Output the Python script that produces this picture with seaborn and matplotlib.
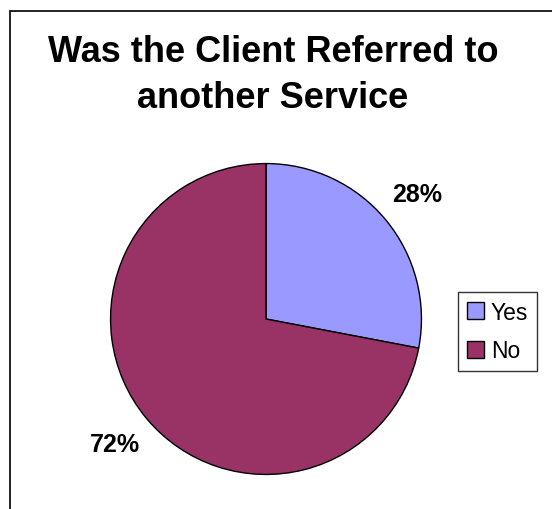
import matplotlib
matplotlib.use("Agg")
import matplotlib.pyplot as plt
import seaborn as sns
from matplotlib.patches import Rectangle

# Referral outcome shares
categories = ["Yes", "No"]
shares = [28, 72]
colors = ["#9999FF", "#993366"]
title_lines = ["Was the Client Referred to", "another Service"]

sns.set_style("white")
plt.rcParams["font.family"] = ["Liberation Sans", "DejaVu Sans"]
plt.rcParams["text.color"] = "black"

W, H = 552, 510
fig = plt.figure(figsize=(W / 100, H / 100), dpi=100)

# outer chart frame (open on the right and bottom edges)
fig.patches.append(Rectangle((9.5 / W, -0.1), 1.2, (H - 11.5) / H + 0.1,
                             transform=fig.transFigure, fill=False,
                             edgecolor="black", linewidth=1.2))

for line, ypx in zip(title_lines, [53, 99]):
    fig.text(273 / W, 1 - ypx / H, line, ha="center", va="center",
             fontsize=26, fontweight="bold", color="black")

cx, cy, r = 266, 320, 157
ax = fig.add_axes([(cx - r) / W, (H - cy - r) / H, 2 * r / W, 2 * r / H])
wedges, _, autotexts = ax.pie(
    shares, colors=colors, startangle=90, counterclock=False,
    autopct=lambda p: f"{p:.0f}%", pctdistance=1.26, radius=1,
    wedgeprops=dict(edgecolor="black", linewidth=1.0),
    textprops=dict(fontsize=18, fontweight="bold", color="black"))
ax.set_xlim(-1.01, 1.01)
ax.set_ylim(-1.01, 1.01)
ax.set_aspect("equal")
ax.axis("off")

leg = fig.legend(wedges, categories, loc="upper left",
                 bbox_to_anchor=(458 / W, 1 - 293 / H), fontsize=16.5,
                 frameon=True, fancybox=False, handlelength=0.75, handleheight=0.75,
                 handletextpad=0.3, borderpad=0.38, labelspacing=0.68,
                 borderaxespad=0, labelcolor="black")
leg.get_frame().set_edgecolor("black")
leg.get_frame().set_linewidth(1.0)

fig.savefig("out.png", dpi=100, facecolor="white")
